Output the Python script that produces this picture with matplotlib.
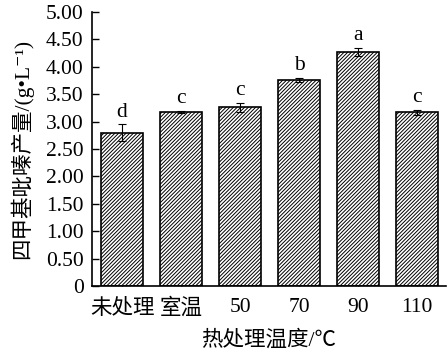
import matplotlib
matplotlib.use("Agg")
import matplotlib.pyplot as plt
import numpy as np

categories = ["未处理", "室温", "50", "70", "90", "110"]
values = [2.80, 3.18, 3.26, 3.76, 4.27, 3.17]
errors = [0.15, 0.02, 0.08, 0.04, 0.07, 0.05]
letters = ["d", "c", "c", "b", "a", "c"]
yticks = [0, 0.5, 1.0, 1.5, 2.0, 2.5, 3.0, 3.5, 4.0, 4.5, 5.0]
ytick_labels = ["0", "0.50", "1.00", "1.50", "2.00", "2.50", "3.00", "3.50", "4.00", "4.50", "5.00"]

fam = ["Liberation Serif", "Noto Sans CJK SC", "DejaVu Serif"]
plt.rcParams['font.family'] = fam
plt.rcParams['hatch.linewidth'] = 0.7

fig = plt.figure(figsize=(4.48, 3.55), dpi=100)
ax = fig.add_axes([92/448, 69/355, 354/448, 274/355])

x = np.arange(len(categories))
ax.bar(x, values, width=0.71, color="white", edgecolor="black", linewidth=1.2,
       hatch="/////////", zorder=2)
ax.errorbar(x, values, yerr=errors, fmt="none", ecolor="black", elinewidth=0.8,
            capsize=3, capthick=0.8, zorder=3)
for xi, v, e, l in zip(x, values, errors, letters):
    ax.text(xi, v + e + 0.05, l, ha="center", va="bottom", fontsize=15.5)

ax.set_xlim(-0.51, 5.49)
ax.set_ylim(0, 5.0)
ax.set_yticks(yticks)
ax.set_yticklabels(ytick_labels, fontsize=15.5)
ax.set_xticks(x)
ax.set_xticklabels(categories, fontsize=15.5)
ax.tick_params(axis="y", direction="in", length=5, width=1, pad=6)
ax.tick_params(axis="x", direction="in", length=4, width=1, pad=9)
for s in ["top", "right"]:
    ax.spines[s].set_visible(False)
for s in ["left", "bottom"]:
    ax.spines[s].set_linewidth(1.2)

ax.set_xlabel("热处理温度/℃", fontsize=15.5, labelpad=8)
ax.set_ylabel("四甲基吡嗪产量/(g•L⁻¹)", fontsize=15.5, labelpad=9)

fig.savefig("out.png", dpi=100)
